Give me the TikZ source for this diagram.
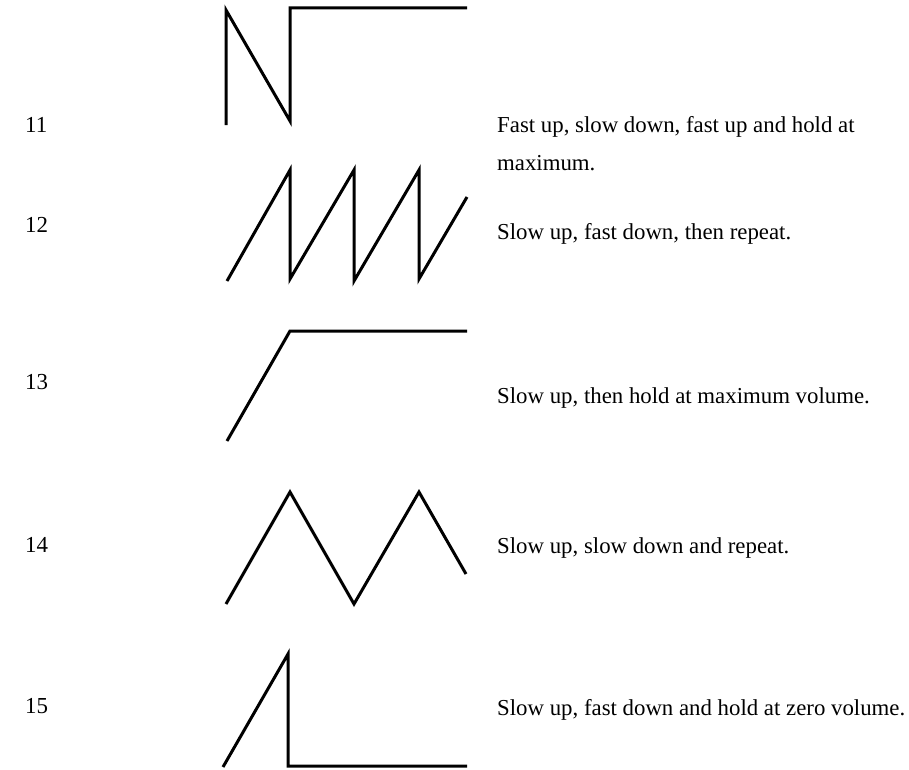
\documentclass[tikz,border=0pt]{standalone}
\usepackage{fontspec}
\setmainfont{Liberation Serif}
\begin{document}
\begin{tikzpicture}[x=1bp,y=-1bp,
  wave/.style={line width=3bp, line join=miter, line cap=butt, black},
  numlab/.style={anchor=base west, inner sep=0pt, font=\fontsize{23}{26}\selectfont},
  desc/.style={anchor=mid west, inner sep=0pt, font=\fontsize{22.9}{26}\selectfont}]
\useasboundingbox (0,0) rectangle (909,770);
% 11
\draw[wave] (226,125) -- (226,10) -- (290,121) -- (290,8) -- (467,8);
% 12
\draw[wave] (227,281) -- (290,170) -- (290,279) -- (354,170) -- (354,281) -- (419,170) -- (419,279) -- (467,197);
% 13
\draw[wave] (227,441) -- (290,331) -- (467,331);
% 14
\draw[wave] (226,604) -- (290,492) -- (354,604) -- (419,492) -- (466,574);
% 15
\draw[wave] (223,767) -- (288,654) -- (288,766) -- (467,766);
% numbers
\node[numlab] (n11) at (25,132) {11};
\node[numlab] (n12) at (25,232) {12};
\node[numlab] (n13) at (25,389) {13};
\node[numlab] (n14) at (25,552) {14};
\node[numlab] (n15) at (25,713) {15};
% descriptions
\node[desc] (d11a) at (497,130) {Fast up, slow down, fast up and hold at};
\node[desc] (d11b) at (497,168) {maximum.};
\node[desc] (d12) at (497,237) {Slow up, fast down, then repeat.};
\node[desc] (d13) at (497,401) {Slow up, then hold at maximum volume.};
\node[desc] (d14) at (497,551) {Slow up, slow down and repeat.};
\node[desc] (d15) at (497,713) {Slow up, fast down and hold at zero volume.};
\end{tikzpicture}
\end{document}
